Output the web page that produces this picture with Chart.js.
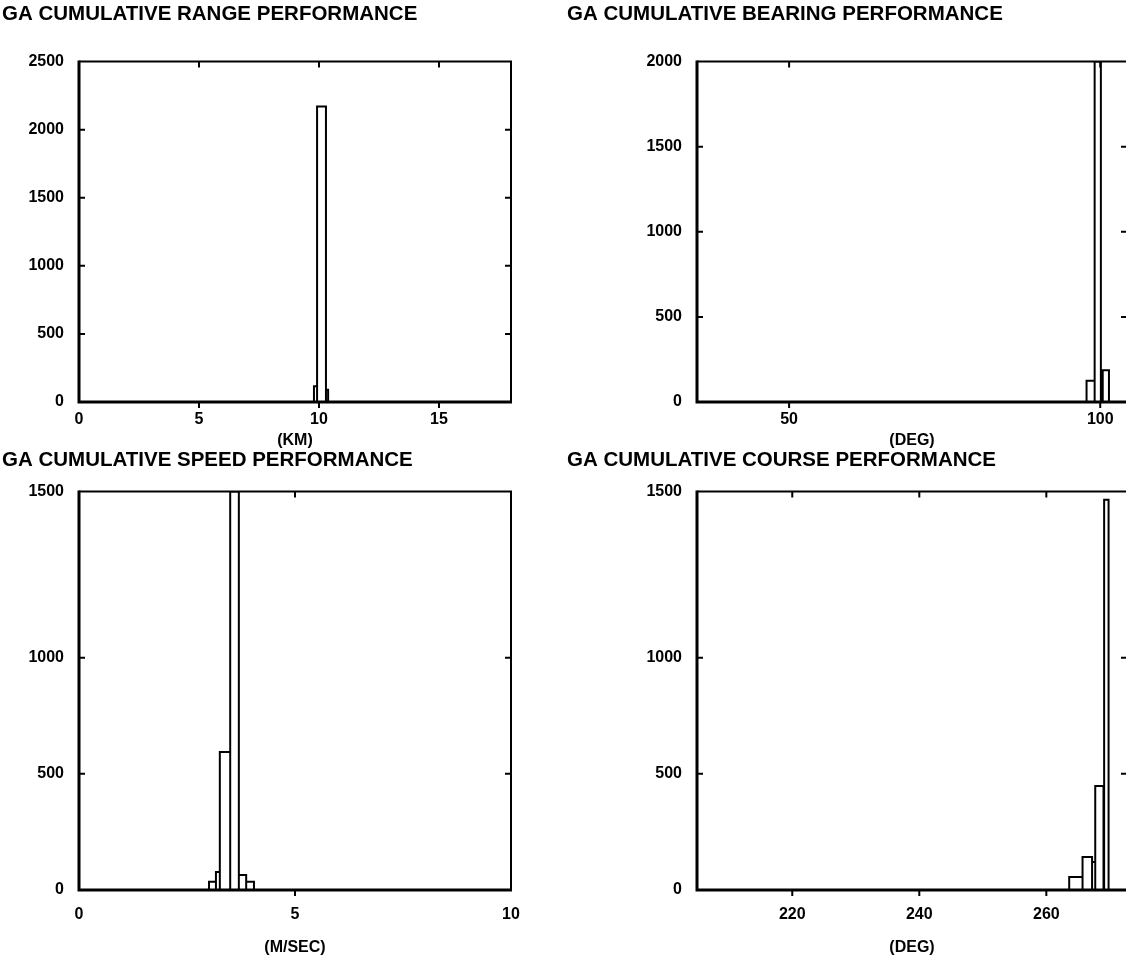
<!DOCTYPE html>
<html>
<head>
<meta charset="utf-8">
<script src="https://cdn.jsdelivr.net/npm/chart.js@4.4.0/dist/chart.umd.min.js"></script>
<style>
  body { margin: 0; background: #fff; width: 1126px; height: 971px; overflow: hidden; position: relative; }
  .panel { position: absolute; }
</style>
</head>
<body>
<div class="panel" style="left:0;top:0;width:563px;height:460px"><canvas id="rangeChart"></canvas></div>
<div class="panel" style="left:563px;top:0;width:570px;height:460px"><canvas id="bearingChart"></canvas></div>
<div class="panel" style="left:0;top:440px;width:563px;height:531px"><canvas id="speedChart"></canvas></div>
<div class="panel" style="left:563px;top:440px;width:570px;height:531px"><canvas id="courseChart"></canvas></div>
<script>
// range histogram (km)
const rangeLeft = [9.79, 9.92, 10.29];
const rangeRight = [9.92, 10.29, 10.38];
const rangeCounts = [115, 2170, 90];
const rangeXTicks = [0, 5, 10, 15];
const rangeYTicks = [0, 500, 1000, 1500, 2000, 2500];
const rangeYLabels = ["0", "500", "1000", "1500", "2000", "2500"];

// bearing histogram (deg)
const bearingLeft = [97.8, 99.1, 100.4];
const bearingRight = [99.1, 100.1, 101.4];
const bearingCounts = [125, 2000, 187];
const bearingXTicks = [50, 100];
const bearingYTicks = [0, 500, 1000, 1500, 2000];
const bearingYLabels = ["0", "500", "1000", "1500", "2000"];

// speed histogram (m/sec)
const speedLeft = [3.01, 3.17, 3.26, 3.5, 3.7, 3.87];
const speedRight = [3.17, 3.26, 3.5, 3.7, 3.87, 4.05];
const speedCounts = [35, 78, 594, 1715, 65, 35];
const speedXTicks = [0, 5, 10];
// the top label of the original sits at the frame, above the even spacing
const speedYTicks = [0, 500, 1000, 1715];
const speedYLabels = ["0", "500", "1000", "1500"];

// course histogram (deg)
const courseLeft = [263.6, 265.7, 267.2, 267.7, 269.1];
const courseRight = [265.7, 267.2, 267.7, 269.0, 269.8];
const courseCounts = [56, 142, 121, 448, 1680];
const courseXTicks = [220, 240, 260];
const courseYTicks = [0, 500, 1000, 1715];
const courseYLabels = ["0", "500", "1000", "1500"];

const FONT = "'Liberation Sans', Arial, sans-serif";

// outline of each bin: up, across, down
function histOutline(lefts, rights, counts) {
  const pts = [];
  counts.forEach((c, i) => {
    pts.push({ x: lefts[i], y: 0 }, { x: lefts[i], y: c }, { x: rights[i], y: c }, { x: rights[i], y: 0 });
  });
  return pts;
}

// box frame with inward tick marks on every side
const frameTicks = {
  id: "frameTicks",
  afterDraw(chart) {
    const { ctx, chartArea: a, scales: { x, y } } = chart;
    ctx.save();
    ctx.strokeStyle = "#000";
    ctx.lineWidth = 2;
    ctx.beginPath();
    ctx.moveTo(a.left, a.top);
    ctx.lineTo(a.right, a.top);
    ctx.lineTo(a.right, a.bottom);
    ctx.stroke();
    ctx.lineWidth = 3;
    ctx.beginPath();
    ctx.moveTo(a.left, a.top - 1);
    ctx.lineTo(a.left, a.bottom);
    ctx.lineTo(a.right + 1, a.bottom);
    ctx.stroke();
    ctx.lineWidth = 2;
    ctx.beginPath();
    x.ticks.forEach((t) => {
      const px = x.getPixelForValue(t.value);
      if (px <= a.left + 2 || px >= a.right - 2) return;
      ctx.moveTo(px, a.top);
      ctx.lineTo(px, a.top + 6);
      ctx.moveTo(px, a.bottom);
      ctx.lineTo(px, a.bottom + 6);
    });
    y.ticks.forEach((t) => {
      const py = y.getPixelForValue(t.value);
      if (py <= a.top + 2 || py >= a.bottom - 2) return;
      ctx.moveTo(a.left, py);
      ctx.lineTo(a.left + 6, py);
      ctx.moveTo(a.right, py);
      ctx.lineTo(a.right - 6, py);
    });
    ctx.stroke();
    ctx.restore();
  },
};

function makeHistChart(id, o) {
  const tickFont = { family: FONT, size: 16, weight: "bold" };
  new Chart(document.getElementById(id), {
    type: "line",
    data: {
      datasets: [
        {
          data: histOutline(o.left, o.right, o.counts),
          borderColor: "#000",
          borderWidth: 2,
          pointRadius: 0,
          tension: 0,
          fill: false,
        },
      ],
    },
    options: {
      responsive: true,
      maintainAspectRatio: false,
      animation: false,
      layout: { padding: o.padding },
      plugins: {
        legend: { display: false },
        tooltip: { enabled: false },
        title: {
          display: true,
          text: o.title,
          align: "start",
          color: "#000",
          font: { family: FONT, size: 20.5, weight: "bold" },
          padding: o.titlePad,
        },
      },
      scales: {
        x: {
          type: "linear",
          min: o.xMin,
          max: o.xMax,
          grid: { display: false, drawTicks: false },
          border: { display: false },
          afterBuildTicks: (s) => { s.ticks = o.xTicks.map((v) => ({ value: v })); },
          afterFit: (s) => { s.height = o.xHeight; },
          ticks: {
            color: "#000",
            font: tickFont,
            padding: o.xTickPad,
            autoSkip: false,
            maxRotation: 0,
            callback: (v) => String(v),
          },
          title: {
            display: true,
            text: o.xTitle,
            color: "#000",
            font: tickFont,
            padding: { top: 0, bottom: o.xTitlePad },
          },
        },
        y: {
          type: "linear",
          min: 0,
          max: o.yMax,
          grid: { display: false, drawTicks: false },
          border: { display: false },
          afterBuildTicks: (s) => { s.ticks = o.yTicks.map((v) => ({ value: v })); },
          afterFit: (s) => { s.width = o.yWidth; },
          ticks: {
            color: "#000",
            font: tickFont,
            padding: 15,
            autoSkip: false,
            callback: (v, i) => o.yLabels[i],
          },
        },
      },
    },
    plugins: [frameTicks],
  });
}

const topPad = { top: 2, bottom: 35 };
const bottomPad = { top: 8, bottom: 19 };

makeHistChart("rangeChart", {
  title: "GA CUMULATIVE RANGE PERFORMANCE",
  left: rangeLeft, right: rangeRight, counts: rangeCounts,
  xMin: 0, xMax: 18, xTicks: rangeXTicks, xTitle: "(KM)",
  yMax: 2500, yTicks: rangeYTicks, yLabels: rangeYLabels,
  padding: { left: 2, right: 52, top: 0, bottom: 0 },
  titlePad: topPad, yWidth: 77, xHeight: 58, xTickPad: 8, xTitlePad: 10,
});

makeHistChart("bearingChart", {
  title: "GA CUMULATIVE BEARING PERFORMANCE",
  left: bearingLeft, right: bearingRight, counts: bearingCounts,
  xMin: 35.2, xMax: 104.3, xTicks: bearingXTicks, xTitle: "(DEG)",
  yMax: 2000, yTicks: bearingYTicks, yLabels: bearingYLabels,
  padding: { left: 4, right: 6, top: 0, bottom: 0 },
  titlePad: topPad, yWidth: 130, xHeight: 58, xTickPad: 8, xTitlePad: 10,
});

makeHistChart("speedChart", {
  title: "GA CUMULATIVE SPEED PERFORMANCE",
  left: speedLeft, right: speedRight, counts: speedCounts,
  xMin: 0, xMax: 10, xTicks: speedXTicks, xTitle: "(M/SEC)",
  yMax: 1715, yTicks: speedYTicks, yLabels: speedYLabels,
  padding: { left: 2, right: 52, top: 0, bottom: 0 },
  titlePad: bottomPad, yWidth: 77, xHeight: 81, xTickPad: 15, xTitlePad: 14,
});

makeHistChart("courseChart", {
  title: "GA CUMULATIVE COURSE PERFORMANCE",
  left: courseLeft, right: courseRight, counts: courseCounts,
  xMin: 205, xMax: 272.7, xTicks: courseXTicks, xTitle: "(DEG)",
  yMax: 1715, yTicks: courseYTicks, yLabels: courseYLabels,
  padding: { left: 4, right: 6, top: 0, bottom: 0 },
  titlePad: bottomPad, yWidth: 130, xHeight: 81, xTickPad: 15, xTitlePad: 14,
});
</script>
</body>
</html>
